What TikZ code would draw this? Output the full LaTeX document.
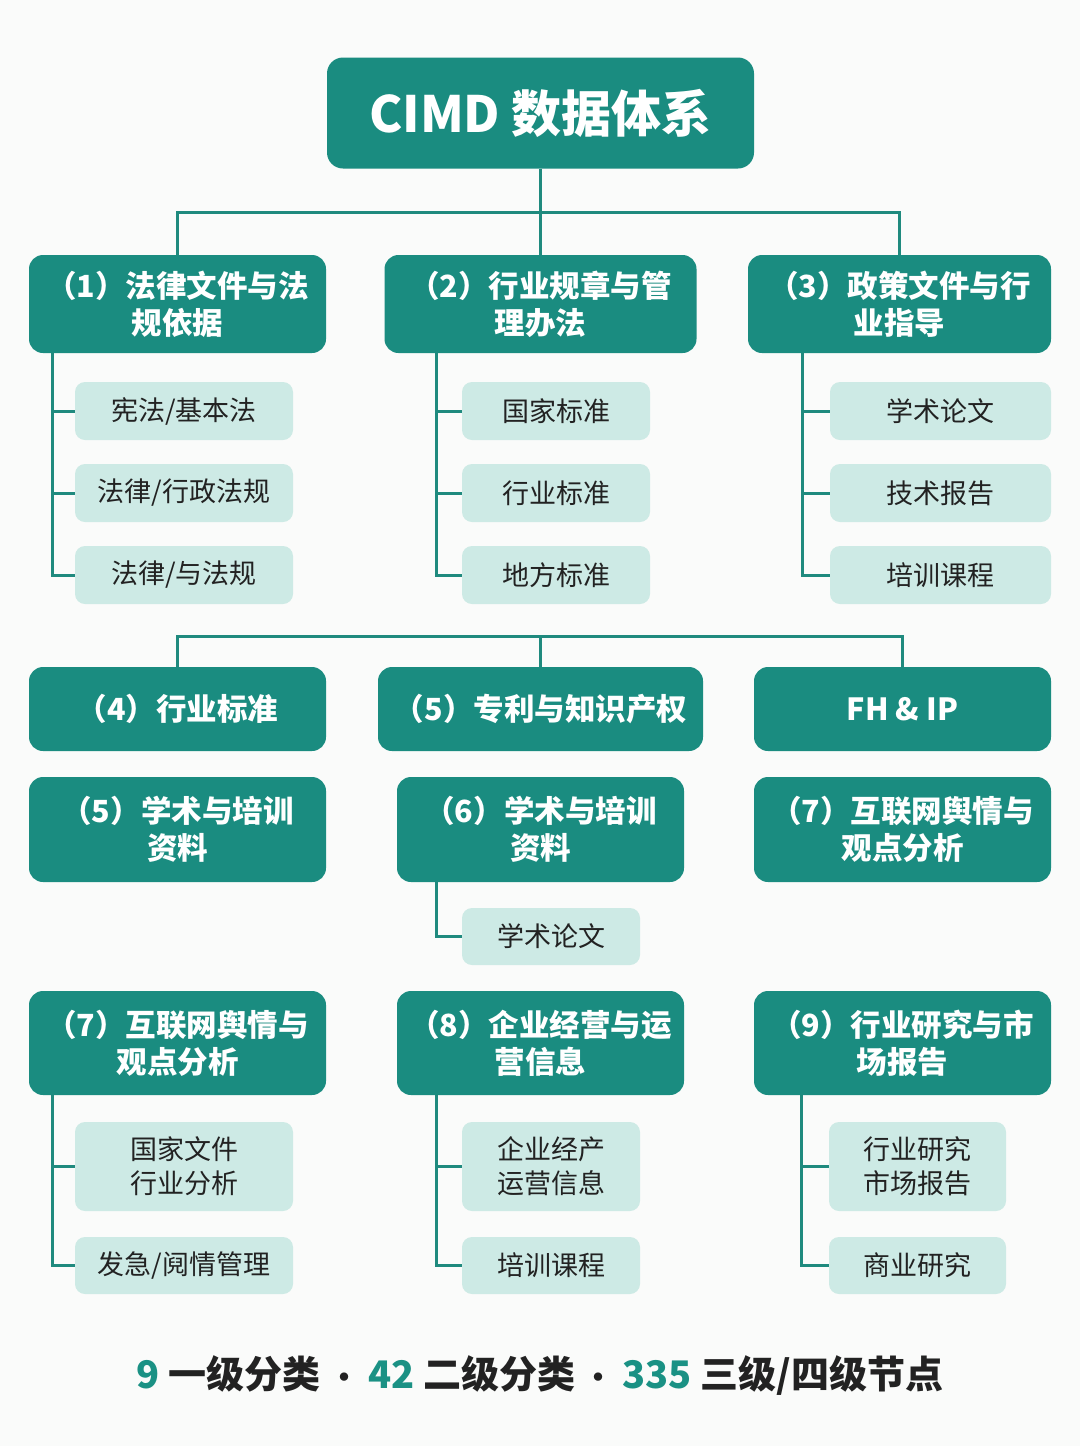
\documentclass[tikz,border=0pt]{standalone}
\usepackage{fontspec}
\setmainfont{Noto Sans CJK SC}
\usetikzlibrary{calc,backgrounds}
\definecolor{tealbox}{HTML}{1A8C80}
\definecolor{leaffill}{HTML}{CDEAE5}
\definecolor{linec}{HTML}{1F8A7E}
\definecolor{inkc}{HTML}{222222}
\definecolor{bgc}{HTML}{FAFBFA}
\definecolor{numc}{HTML}{1A9184}
\tikzset{
  hdr/.style={fill=tealbox, rounded corners=14pt, text=white, align=center, inner sep=0pt,
    font=\fontsize{30.5}{37}\selectfont\bfseries},
  leaf/.style={fill=leaffill, rounded corners=10pt, text=inkc, align=center, inner sep=0pt,
    font=\fontsize{27}{34}\selectfont},
  link/.style={draw=linec, line width=3pt},
}
\begin{document}
\begin{tikzpicture}[x=1pt,y=-1pt]
\begin{scope}[on background layer]
\fill[bgc] (0,0) rectangle (1080,1446);
\end{scope}
\useasboundingbox (0,0) rectangle (1080,1446);

% title
\node[hdr, rounded corners=16pt, minimum width=427pt, minimum height=111pt,
  font=\fontsize{50}{60}\selectfont\bfseries] (title) at (540.5,113) {CIMD 数据体系};

% row 1 headers
\node[hdr, minimum width=297pt, minimum height=98pt] (a1) at (177.5,304) {（1）法律文件与法\\规依据};
\node[hdr, minimum width=312pt, minimum height=98pt] (a2) at (540.5,304) {（2）行业规章与管\\理办法};
\node[hdr, minimum width=303pt, minimum height=98pt] (a3) at (899.5,304) {（3）政策文件与行\\业指导};

% row 1 leaves
\node[leaf, minimum width=218pt, minimum height=58pt] (b11) at (184,411) {宪法/基本法};
\node[leaf, minimum width=218pt, minimum height=58pt] (b12) at (184,493) {法律/行政法规};
\node[leaf, minimum width=218pt, minimum height=58pt] (b13) at (184,575) {法律/与法规};
\node[leaf, minimum width=188pt, minimum height=58pt] (b21) at (556,411) {国家标准};
\node[leaf, minimum width=188pt, minimum height=58pt] (b22) at (556,493) {行业标准};
\node[leaf, minimum width=188pt, minimum height=58pt] (b23) at (556,575) {地方标准};
\node[leaf, minimum width=221pt, minimum height=58pt] (b31) at (940.5,411) {学术论文};
\node[leaf, minimum width=221pt, minimum height=58pt] (b32) at (940.5,493) {技术报告};
\node[leaf, minimum width=221pt, minimum height=58pt] (b33) at (940.5,575) {培训课程};

% row 2
\node[hdr, minimum width=297pt, minimum height=84pt] (c1) at (177.5,709) {（4）行业标准};
\node[hdr, minimum width=325pt, minimum height=84pt] (c2) at (540.5,709) {（5）专利与知识产权};
\node[hdr, minimum width=297pt, minimum height=84pt] (c3) at (902.5,709) {FH \& IP};

% row 3
\node[hdr, minimum width=297pt, minimum height=105pt] (d1) at (177.5,829.5) {（5）学术与培训\\资料};
\node[hdr, minimum width=287pt, minimum height=105pt] (d2) at (540.5,829.5) {（6）学术与培训\\资料};
\node[hdr, minimum width=297pt, minimum height=105pt] (d3) at (902.5,829.5) {（7）互联网舆情与\\观点分析};
\node[leaf, minimum width=178pt, minimum height=57pt] (d21) at (551,936.5) {学术论文};

% row 4
\node[hdr, minimum width=297pt, minimum height=104pt] (e1) at (177.5,1043) {（7）互联网舆情与\\观点分析};
\node[hdr, minimum width=287pt, minimum height=104pt] (e2) at (540.5,1043) {（8）企业经营与运\\营信息};
\node[hdr, minimum width=297pt, minimum height=104pt] (e3) at (902.5,1043) {（9）行业研究与市\\场报告};

\node[leaf, minimum width=218pt, minimum height=89pt] (e11) at (184,1166.5) {国家文件\\行业分析};
\node[leaf, minimum width=218pt, minimum height=57pt] (e12) at (184,1265.5) {发急/阋情管理};
\node[leaf, minimum width=178pt, minimum height=89pt] (e21) at (551,1166.5) {企业经产\\运营信息};
\node[leaf, minimum width=178pt, minimum height=57pt] (e22) at (551,1265.5) {培训课程};
\node[leaf, minimum width=177pt, minimum height=89pt] (e31) at (917.5,1166.5) {行业研究\\市场报告};
\node[leaf, minimum width=177pt, minimum height=57pt] (e32) at (917.5,1265.5) {商业研究};

% footer
\node[font=\fontsize{38}{46}\selectfont\bfseries, text=inkc] (foot) at (540,1376)
  {\textcolor{numc}{9} 一级分类 {\fontsize{30}{40}\selectfont·} \textcolor{numc}{42} 二级分类 {\fontsize{30}{40}\selectfont·} \textcolor{numc}{335} 三级/四级节点};

% connectors
\begin{scope}[on background layer]
\coordinate (bar1) at (540.5,212);
\draw[link] (title.south) -- (a2.north);
\draw[link] (a1.north) |- (bar1);
\draw[link] (a3.north) |- (bar1);

\coordinate (t1) at (52,353);
\coordinate (t2) at (436,353);
\coordinate (t3) at (802,353);
\draw[link] (t1) |- (b11.west); \draw[link] (t1) |- (b12.west); \draw[link] (t1) |- (b13.west);
\draw[link] (t2) |- (b21.west); \draw[link] (t2) |- (b22.west); \draw[link] (t2) |- (b23.west);
\draw[link] (t3) |- (b31.west); \draw[link] (t3) |- (b32.west); \draw[link] (t3) |- (b33.west);

\coordinate (bar2) at (540.5,636);
\draw[link] (c1.north) |- (bar2);
\draw[link] (c3.north) |- (bar2);
\draw[link] (bar2) -- (c2.north);

\coordinate (t5) at (436,882);
\draw[link] (t5) |- (d21.west);

\coordinate (t7) at (52,1095);
\coordinate (t8) at (436,1095);
\coordinate (t9) at (801,1095);
\draw[link] (t7) |- (e11.west); \draw[link] (t7) |- (e12.west);
\draw[link] (t8) |- (e21.west); \draw[link] (t8) |- (e22.west);
\draw[link] (t9) |- (e31.west); \draw[link] (t9) |- (e32.west);
\end{scope}
\end{tikzpicture}
\end{document}
